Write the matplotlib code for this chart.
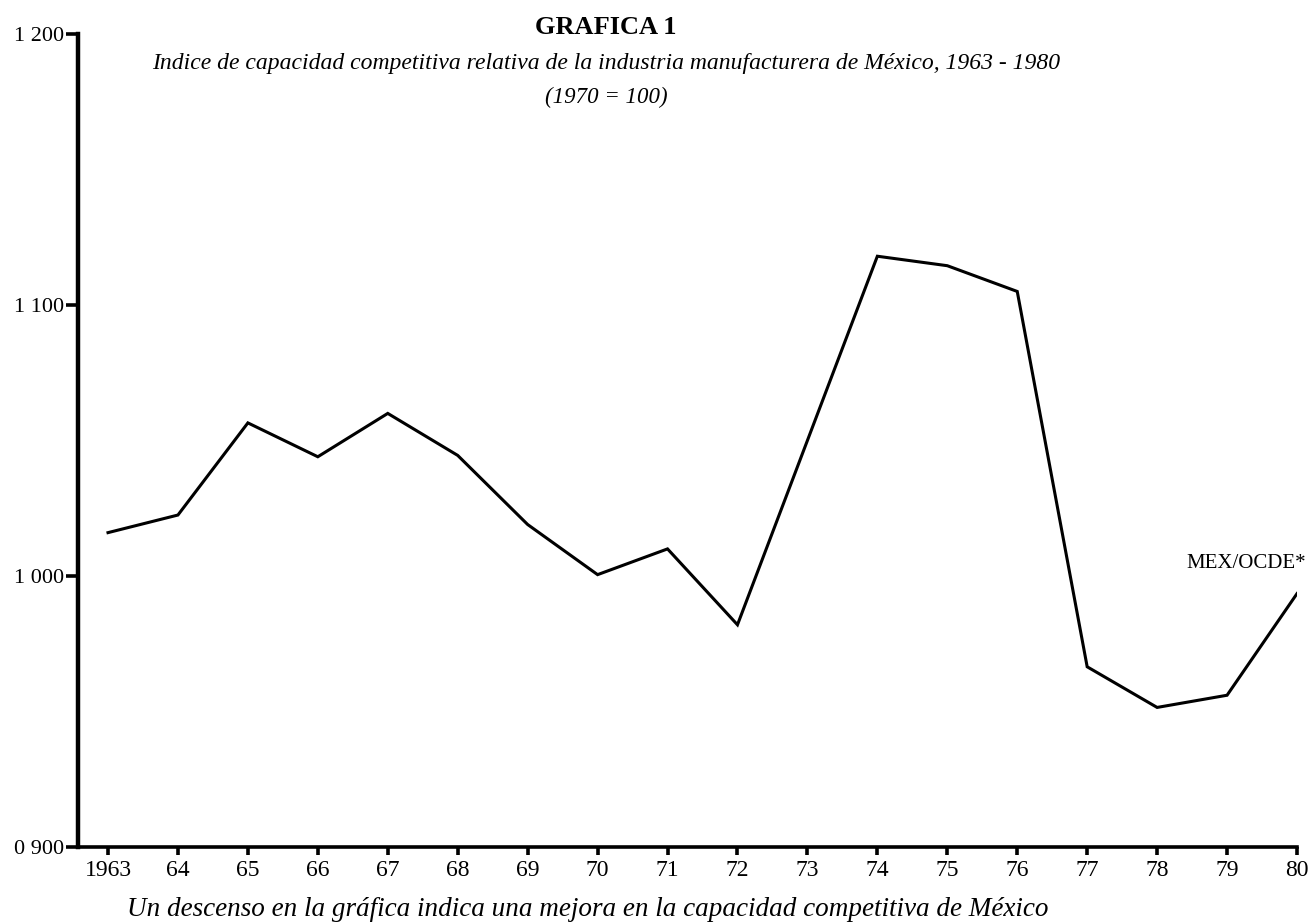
import matplotlib
matplotlib.use("Agg")
import matplotlib.pyplot as plt

years = list(range(1963, 1981))
values = [1016, 1022.5, 1056.5, 1044, 1060, 1044.5, 1019, 1000.5, 1010, 982,
          1050, 1118, 1114.5, 1105, 966.5, 951.5, 956, 993.5]
xtick_labels = ["1963", "64", "65", "66", "67", "68", "69", "70", "71", "72",
                "73", "74", "75", "76", "77", "78", "79", "80"]
ytick_values = [900, 1000, 1100, 1200]
ytick_labels = ["0 900", "1 000", "1 100", "1 200"]

W, H = 1312, 923
fig = plt.figure(figsize=(W / 100, H / 100), dpi=100)
plt.rcParams['font.family'] = ['Liberation Serif', 'DejaVu Serif']

left, right, top, bottom = 78, 1297, 34, 847
ax = fig.add_axes([left / W, (H - bottom) / H, (right - left) / W, (bottom - top) / H])

ax.plot(years, values, color='black', lw=2.2, solid_joinstyle='miter')
ax.set_xlim(1963 - 30 / 69.94, 1980)
ax.set_ylim(900, 1200)

for s in ['top', 'right']:
    ax.spines[s].set_visible(False)
ax.spines['left'].set_linewidth(3.2)
ax.spines['bottom'].set_linewidth(2.6)

ax.set_xticks(years)
ax.set_xticklabels(xtick_labels, fontsize=17)
ax.set_yticks(ytick_values)
ax.set_yticklabels(ytick_labels, fontsize=16)
ax.tick_params(axis='x', direction='out', length=6, width=2.6, pad=3)
ax.tick_params(axis='y', direction='out', length=9, width=2.6, pad=1)

def ftext(x, y, s, **kw):
    fig.text(x / W, 1 - y / H, s, **kw)

ftext(606, 28, "GRAFICA 1", ha='center', va='center', fontsize=19, fontweight='bold')
ftext(606, 63, "Indice de capacidad competitiva relativa de la industria manufacturera de México, 1963 - 1980",
      ha='center', va='center', fontsize=17, style='italic')
ftext(606, 97, "(1970 = 100)", ha='center', va='center', fontsize=16.5, style='italic')
ftext(588, 910, "Un descenso en la gráfica indica una mejora en la capacidad competitiva de México",
      ha='center', va='center', fontsize=19.5, style='italic')
ftext(1246, 563, "MEX/OCDE*", ha='center', va='center', fontsize=15)

fig.savefig("out.png", dpi=100)
